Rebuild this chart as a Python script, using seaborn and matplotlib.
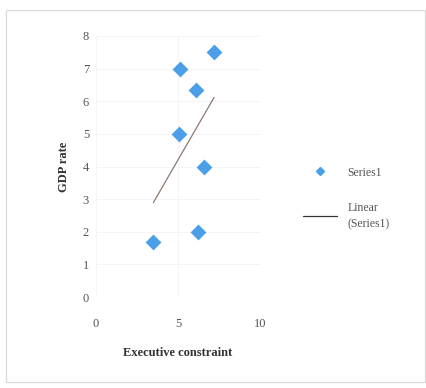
import matplotlib
matplotlib.use("Agg")
import matplotlib.pyplot as plt
from matplotlib.lines import Line2D
from matplotlib.patches import Rectangle
import seaborn as sns
import pandas as pd

# Executive constraint vs GDP rate
executive_constraint = [7.2, 5.1, 6.1, 5.05, 6.6, 6.2, 3.5]
gdp_rate = [7.5, 7.0, 6.35, 5.0, 4.0, 2.0, 1.7]
x_ticks = [0, 5, 10]
y_ticks = [0, 1, 2, 3, 4, 5, 6, 7, 8]

df = pd.DataFrame({"Executive constraint": executive_constraint,
                   "GDP rate": gdp_rate})

sns.set_style("white")
plt.rcParams["font.family"] = ["Liberation Serif", "DejaVu Serif"]

point_color = "#4b9fe8"
trend_color = "#8a7a72"
text_color = "#555555"

fig = plt.figure(figsize=(4.27, 3.88), dpi=100)
# light chart-area border
fig.patches.append(Rectangle((6 / 427, 6 / 388), 419 / 427, 372 / 388,
                             transform=fig.transFigure, fill=False,
                             edgecolor="#d9d9d9", linewidth=0.9))

ax = fig.add_axes([96 / 427, 1 - 297 / 388, (260 - 96) / 427, (297 - 36) / 388])

sns.regplot(data=df, x="Executive constraint", y="GDP rate", ax=ax,
            scatter=False, ci=None, truncate=True,
            line_kws={"color": trend_color, "linewidth": 0.9, "zorder": 2})
sns.scatterplot(data=df, x="Executive constraint", y="GDP rate", ax=ax,
                marker="D", s=65, color=point_color, edgecolor=point_color,
                linewidth=0, zorder=3)

ax.set_xlim(0, 10)
ax.set_ylim(0, 8)
ax.set_xticks(x_ticks)
ax.set_yticks(y_ticks)
ax.tick_params(axis="both", length=0, labelsize=9, colors=text_color)
ax.tick_params(axis="x", pad=15)
ax.tick_params(axis="y", pad=5)
for s in ax.spines.values():
    s.set_visible(False)
ax.grid(True, color="#f3f3f3", linewidth=0.6)

ax.set_xlabel("Executive constraint", fontsize=9, fontweight="bold",
              color="#333333", labelpad=12)
ax.set_ylabel("GDP rate", fontsize=9, fontweight="bold",
              color="#333333", labelpad=9)

handles = [
    Line2D([], [], linestyle="none", marker="D", markersize=3.8,
           color=point_color, label="Series1"),
    Line2D([], [], color="#333333", linewidth=0.9,
           label="Linear\n(Series1)"),
]
leg = fig.legend(handles=handles, loc="upper left",
                 bbox_to_anchor=(292 / 427, 1 - 156 / 388),
                 frameon=False, fontsize=8.5, labelcolor=text_color,
                 handlelength=2.9, handletextpad=0.9, labelspacing=2.0)
for t in leg.get_texts():
    t.set_linespacing(1.4)

fig.savefig("out.png", dpi=100, facecolor="white")
